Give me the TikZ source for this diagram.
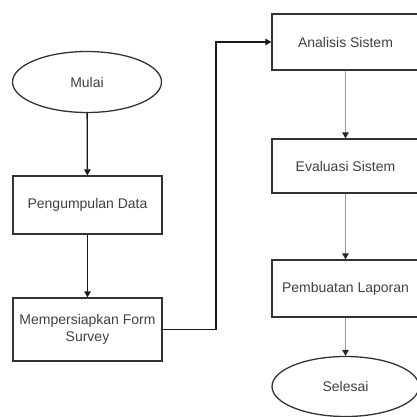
\documentclass[tikz,border=0pt]{standalone}
\usepackage{fontspec}
\setmainfont{Liberation Sans}
\usetikzlibrary{arrows.meta,shapes.geometric}
\begin{document}
\begin{tikzpicture}[x=1pt,y=-1pt,
    kotak/.style={draw=black!80,line width=1.3pt,rectangle,minimum width=149pt,inner sep=0pt,align=center,text=black!75,font=\fontsize{14}{17}\selectfont},
    oval/.style={draw=black!80,line width=1.3pt,ellipse,minimum width=149pt,minimum height=61pt,inner sep=0pt,text=black!75,font=\fontsize{14}{17}\selectfont},
    panah/.style={-{Triangle[length=6pt,width=6.5pt]},line width=1.3pt,black!90},
    panahabu/.style={-{Triangle[length=6pt,width=6.5pt,color=black!85]},line width=1.3pt,black!40}]
    \useasboundingbox(0,0)rectangle(417,416);
    %kolom kiri
    \node[oval](mulai)at(87,82){Mulai};
    \node[kotak,minimum height=58pt](kumpul)at(87.5,205){Pengumpulan Data};
    \node[kotak,minimum height=63pt](siap)at(87.5,329.5){Mempersiapkan Form\\Survey};
    %kolom kanan
    \node[kotak,minimum width=147pt,minimum height=56pt](analisis)at(345.5,42){Analisis Sistem};
    \node[kotak,minimum width=147pt,minimum height=54pt](evaluasi)at(345.5,166){Evaluasi Sistem};
    \node[kotak,minimum width=147pt,minimum height=57pt](laporan)at(345.5,288.5){Pembuatan Laporan};
    \node[oval,minimum width=147pt,minimum height=60pt](selesai)at(345.5,386.5){Selesai};
    %alur
    \path[draw,panah](mulai)to(kumpul);
    \path[draw,panah](kumpul)to(siap);
    \coordinate(belok)at(216,42);
    \path[draw,panah](siap.east)-|(belok)--(analisis.west);
    \path[draw,panahabu](analisis)to(evaluasi);
    \path[draw,panahabu](evaluasi)to(laporan);
    \path[draw,panahabu](laporan)to(selesai);
\end{tikzpicture}
\end{document}
